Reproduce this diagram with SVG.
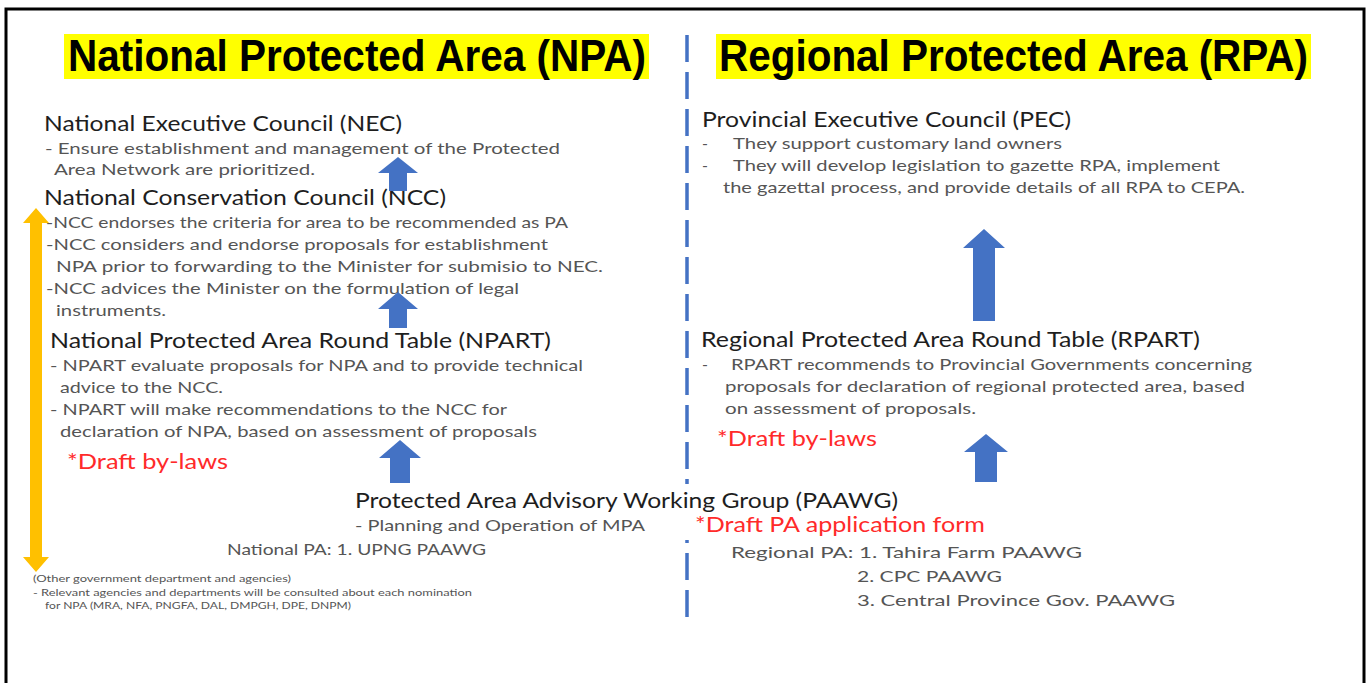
<svg xmlns="http://www.w3.org/2000/svg" width="1371" height="683" viewBox="0 0 1371 683">
<style>
.title{font-family:"Liberation Sans",Arial,sans-serif;font-weight:bold;font-size:44px;fill:#000}
.hl{fill:#FFFF00}
.h{font-family:Lato,"Open Sans",sans-serif;font-size:20.5px;fill:#1e1e1e}
.b{font-family:Lato,"Open Sans",sans-serif;font-size:16px;fill:#555}
.red{font-family:Lato,"Open Sans",sans-serif;font-size:20.5px;fill:#FF2A2A}
.sm{font-family:Lato,"Open Sans",sans-serif;font-size:9.5px;fill:#555}
.arr{fill:#4472C4}
.yarr{fill:#FFC000}
</style>
<rect x="6" y="9" width="1358" height="700" fill="#fff" stroke="#000" stroke-width="3"/>
<g id="divider">
<line x1="687" y1="35" x2="687" y2="617" stroke="#4472C4" stroke-width="3.5" stroke-dasharray="27 10"/>
</g>
<g id="title-npa">
<rect class="hl" x="64" y="34" width="585" height="45"/>
<text class="title" x="68" y="71" textLength="578" lengthAdjust="spacingAndGlyphs">National Protected Area (NPA)</text>
</g>
<g id="title-rpa">
<rect class="hl" x="716" y="34" width="595" height="45"/>
<text class="title" x="719" y="71" textLength="589" lengthAdjust="spacingAndGlyphs">Regional Protected Area (RPA)</text>
</g>
<g id="nec">
<text class="h" x="44" y="131" textLength="358" lengthAdjust="spacingAndGlyphs">National Executive Council (NEC)</text>
<text class="b" x="45" y="154" textLength="515" lengthAdjust="spacingAndGlyphs">- Ensure establishment and management of the Protected</text>
<text class="b" x="54" y="175" textLength="261" lengthAdjust="spacingAndGlyphs">Area Network are prioritized.</text>
</g>
<g id="ncc">
<text class="h" x="44" y="205" textLength="402" lengthAdjust="spacingAndGlyphs">National Conservation Council (NCC)</text>
<text class="b" x="46" y="228" textLength="522" lengthAdjust="spacingAndGlyphs">-NCC endorses the criteria for area to be recommended as PA</text>
<text class="b" x="46" y="250" textLength="502" lengthAdjust="spacingAndGlyphs">-NCC considers and endorse proposals for establishment</text>
<text class="b" x="56" y="272" textLength="547" lengthAdjust="spacingAndGlyphs">NPA prior to forwarding to the Minister for submisio to NEC.</text>
<text class="b" x="46" y="294" textLength="473" lengthAdjust="spacingAndGlyphs">-NCC advices the Minister on the formulation of legal</text>
<text class="b" x="56" y="316" textLength="110" lengthAdjust="spacingAndGlyphs">instruments.</text>
</g>
<g id="npart">
<text class="h" x="50" y="348" textLength="501" lengthAdjust="spacingAndGlyphs">National Protected Area Round Table (NPART)</text>
<text class="b" x="50" y="371" textLength="533" lengthAdjust="spacingAndGlyphs">- NPART evaluate proposals for NPA and to provide technical</text>
<text class="b" x="60" y="393" textLength="163" lengthAdjust="spacingAndGlyphs">advice to the NCC.</text>
<text class="b" x="50" y="415" textLength="457" lengthAdjust="spacingAndGlyphs">- NPART will make recommendations to the NCC for</text>
<text class="b" x="60" y="437" textLength="477" lengthAdjust="spacingAndGlyphs">declaration of NPA, based on assessment of proposals</text>
<text class="red" x="67" y="469" textLength="161" lengthAdjust="spacingAndGlyphs">*Draft by-laws</text>
</g>
<g id="paawg">
<rect x="676" y="484" width="22" height="56" fill="#fff"/>
<text class="h" x="355" y="508" textLength="543" lengthAdjust="spacingAndGlyphs">Protected Area Advisory Working Group (PAAWG)</text>
<text class="b" x="355" y="531" textLength="290" lengthAdjust="spacingAndGlyphs">- Planning and Operation of MPA</text>
<text class="red" x="695" y="532" textLength="290" lengthAdjust="spacingAndGlyphs">*Draft PA application form</text>
<text class="b" x="227" y="555" textLength="259" lengthAdjust="spacingAndGlyphs">National PA: 1. UPNG  PAAWG</text>
<text class="b" x="731" y="558" textLength="351" lengthAdjust="spacingAndGlyphs">Regional PA: 1. Tahira Farm PAAWG</text>
<text class="b" x="857" y="582" textLength="145" lengthAdjust="spacingAndGlyphs">2. CPC PAAWG</text>
<text class="b" x="857" y="606" textLength="318" lengthAdjust="spacingAndGlyphs">3. Central Province Gov. PAAWG</text>
</g>
<g id="other-agencies">
<text class="sm" x="33" y="582" textLength="258" lengthAdjust="spacingAndGlyphs">(Other government  department  and agencies)</text>
<text class="sm" x="33" y="596" textLength="439" lengthAdjust="spacingAndGlyphs">- Relevant agencies and departments  will be consulted about each nomination</text>
<text class="sm" x="45" y="609" textLength="306" lengthAdjust="spacingAndGlyphs">for NPA (MRA, NFA, PNGFA, DAL, DMPGH, DPE, DNPM)</text>
</g>
<g id="pec">
<text class="h" x="702" y="127" textLength="369" lengthAdjust="spacingAndGlyphs">Provincial Executive Council (PEC)</text>
<text class="b" x="702" y="149">-</text>
<text class="b" x="733" y="149" textLength="329" lengthAdjust="spacingAndGlyphs">They support customary land owners</text>
<text class="b" x="702" y="171">-</text>
<text class="b" x="733" y="171" textLength="487" lengthAdjust="spacingAndGlyphs">They will develop legislation to gazette RPA, implement</text>
<text class="b" x="723" y="193" textLength="522" lengthAdjust="spacingAndGlyphs">the gazettal process, and provide details of all RPA to CEPA.</text>
</g>
<g id="rpart">
<text class="h" x="701" y="347" textLength="499" lengthAdjust="spacingAndGlyphs">Regional Protected Area Round Table (RPART)</text>
<text class="b" x="702" y="370">-</text>
<text class="b" x="731" y="370" textLength="521" lengthAdjust="spacingAndGlyphs">RPART recommends to Provincial Governments concerning</text>
<text class="b" x="725" y="392" textLength="520" lengthAdjust="spacingAndGlyphs">proposals for declaration of regional protected area, based</text>
<text class="b" x="725" y="414" textLength="251" lengthAdjust="spacingAndGlyphs">on assessment of proposals.</text>
<text class="red" x="717" y="446" textLength="160" lengthAdjust="spacingAndGlyphs">*Draft by-laws</text>
</g>
<g id="connectors">
<polygon class="arr" points="398,157 418,173 407,173 407,191 389,191 389,173 378,173"/>
<polygon class="arr" points="398,292 418,309 407,309 407,328 389,328 389,309 378,309"/>
<polygon class="arr" points="400,440 421,458 410,458 410,483 390,483 390,458 379,458"/>
<polygon class="arr" points="984,229 1005,248 995,248 995,321 973,321 973,248 963,248"/>
<polygon class="arr" points="986,434 1008,452 997,452 997,482 975,482 975,452 964,452"/>
<polygon class="yarr" points="36,208 49,223 42,223 42,557 49,557 36,572 23,557 30,557 30,223 23,223"/>
</g>
</svg>
